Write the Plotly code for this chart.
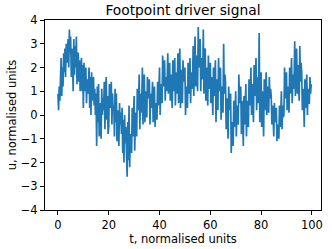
import plotly.graph_objects as go

# signal samples, 4 samples per time unit (dt = 0.25)
u = [
    0.9, 0.2, 1.2, 0.6,   1.5, 2.4, 0.8, 2.0,   1.2, 2.6, 1.8, 2.8,   1.6, 3.0, 2.2, 2.7,
    3.2, 2.0, 3.6, 2.6,   3.3, 1.6, 2.8, 2.2,   1.0, 3.2, 1.7, 2.9,   2.0, 3.3, 1.3, 2.6,
    2.6, 1.4, 2.3, 1.0,   1.8, 2.4, 1.0, 2.1,   0.3, 2.2, 1.0, 1.7,   2.0, 0.5, 1.5, 0.9,
    1.2, 2.0, 0.3, 1.6,   0.0, 1.8, 0.6, 1.3,   1.6, 0.4, 1.1, 0.0,   0.9, -1.3, 1.2, -0.3,
    1.3, -0.9, 0.5, -0.2, -1.0, 1.1, 0.0, 0.7,  0.2, 1.4, -0.6, 0.9,  1.6, -0.2, 0.8, -0.8,
    -0.5, 1.3, 0.3, 0.8,  1.4, -0.4, 0.9, 0.2,  0.4, -0.9, 1.1, -0.3, 0.9, -1.1, 0.2, -0.6,
    -1.3, 0.5, -0.4, 0.1, -0.8, 0.3, -1.6, -0.2, -2.0, 0.0, -1.2, -0.5, -1.4, -2.6, -0.3, -1.9,
    0.4, -2.2, -0.8, -1.5, -1.6, 0.3, -0.9, -0.2, 0.8, -1.5, 0.1, -0.6, -0.9, 1.1, 0.2, 0.6,
    1.7, -0.6, 0.9, 0.1,  0.5, 2.0, -0.4, 1.3,  1.7, -0.3, 1.0, 0.4,  -0.1, 1.6, 0.7, 1.1,
    1.5, -0.4, 0.9, 0.3,  0.6, 1.4, -0.3, 1.0,  1.2, -0.5, 0.5, 0.0,  -0.2, 1.4, 0.4, 0.9,
    2.0, 0.0, 1.3, 0.6,   0.5, 2.5, 1.2, 1.9,   2.3, 0.6, 1.6, 1.0,   1.4, 2.6, 0.9, 2.0,
    2.2, 0.6, 1.7, 1.1,   0.3, 2.3, 1.0, 1.6,   2.4, 0.4, 1.8, 0.9,   1.2, 2.6, 0.5, 2.0,
    2.8, 0.3, 1.9, 1.0,   0.5, 2.3, 1.4, 1.8,   2.0, 0.0, 1.2, 0.6,   0.3, 2.2, 0.9, 1.6,
    2.4, 0.5, 1.8, 1.1,   1.3, 2.9, 0.8, 2.2,   3.3, 1.2, 2.5, 1.8,   1.0, 3.7, 2.0, 2.9,
    3.2, 1.0, 2.4, 1.6,   1.5, 3.6, 0.9, 2.7,   2.8, 0.6, 2.0, 1.3,   0.4, 2.5, 1.1, 1.9,
    2.2, 0.5, 1.6, 1.0,   0.0, 2.0, 0.8, 1.4,   2.3, -0.3, 1.5, 0.6,  0.2, 2.4, 1.0, 1.8,
    2.0, -0.2, 1.2, 0.5,  0.1, 3.0, 0.9, 1.7,   1.4, -0.6, 0.7, 0.0,  -1.0, 1.2, 0.2, 0.6,
    0.9, -1.6, -0.3, -0.9, -1.3, 0.6, -0.5, 0.1, 1.0, -0.9, 0.4, -0.3, -0.4, 1.7, 0.5, 1.1,
    1.2, -0.8, 0.6, -0.1, -1.3, 0.8, -0.4, 0.3, 1.3, -0.9, 0.6, -0.2, -0.5, 1.5, 0.4, 0.9,
    2.0, 0.0, 1.3, 0.6,   -0.3, 2.1, 0.8, 1.4,  2.4, 0.2, 1.6, 0.9,   0.5, 3.45, -0.3, 1.5,
    1.8, -0.5, 1.0, 0.3,  -0.9, 1.5, 0.2, 0.8,  1.8, 0.0, 1.2, 0.5,   0.1, 1.6, 0.7, 1.1,
    0.8, -0.4, 0.4, -0.1, -0.9, 0.5, -0.3, 0.1, 0.3, -1.1, -0.4, -0.8, -1.0, 0.4, -0.5, 0.0,
    1.0, -0.6, 0.4, -0.1, 0.0, 2.0, 0.7, 1.4,   1.8, 0.2, 1.2, 0.6,   0.1, 2.0, 0.9, 1.5,
    2.4, 0.5, 1.7, 1.1,   1.4, 3.1, 0.8, 2.3,   2.8, 0.9, 2.1, 1.5,   0.6, 2.9, 1.4, 2.2,
    1.8, 0.2, 1.1, 0.7,   -0.5, 1.5, 0.3, 0.9,  1.7, 0.0, 1.1, 0.5,   0.5, 1.6, 0.9, 1.3,
]
dt = 0.25
t = [i * dt for i in range(len(u))]

x_ticks = [0, 20, 40, 60, 80, 100]
y_ticks = [-4, -3, -2, -1, 0, 1, 2, 3, 4]

FONT = "DejaVu Sans"
TICK_SIZE = 11.5
LABEL_SIZE = 11.5
TITLE_SIZE = 13.8

fig = go.Figure(
    go.Scatter(x=t, y=u, mode="lines", line=dict(color="#1f77b4", width=1.7),
               showlegend=False, hoverinfo="skip")
)

axis_common = dict(
    showline=True, linecolor="black", linewidth=1, mirror=True,
    ticks="outside", ticklen=4, tickwidth=1, tickcolor="black",
    showgrid=False, zeroline=False, automargin=False,
    tickfont=dict(family=FONT, size=TICK_SIZE, color="black"),
)

fig.update_layout(
    width=332, height=249,
    margin=dict(l=45, r=11, t=20, b=39, autoexpand=False),
    paper_bgcolor="white", plot_bgcolor="white",
    title=dict(text="Footpoint driver signal", x=0.551, xanchor="center",
               y=0.96, yanchor="middle",
               font=dict(family=FONT, size=TITLE_SIZE, color="black")),
    xaxis=dict(range=[-5.1, 103.6], tickvals=x_ticks,
               title=dict(text="t, normalised units", standoff=1,
                          font=dict(family=FONT, size=LABEL_SIZE, color="black")),
               **axis_common),
    yaxis=dict(range=[-4, 4], tickvals=y_ticks,
               title=dict(text="u, normalised units", standoff=1,
                          font=dict(family=FONT, size=LABEL_SIZE, color="black")),
               **axis_common),
)

fig.write_html(
    "out.html",
    config={"displayModeBar": False},
    post_script="document.body.style.margin='0';document.body.style.overflow='hidden';",
)
